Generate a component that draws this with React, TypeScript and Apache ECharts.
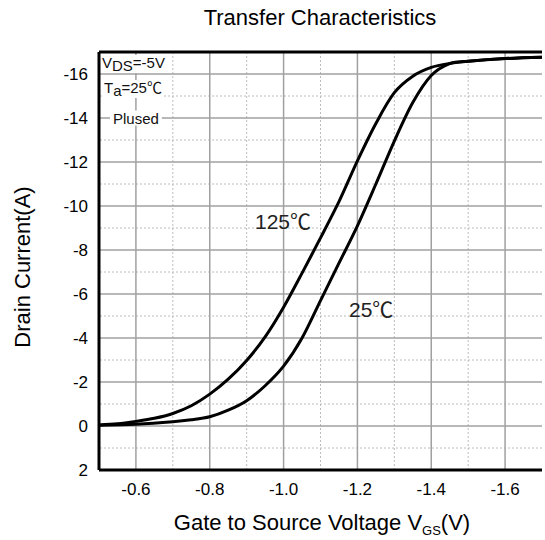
import React, { useEffect, useRef } from "react";
import * as echarts from "echarts";

// Gate-source voltage (V) and drain current (A)
const vgs125 = [-0.5, -0.55, -0.6, -0.65, -0.7, -0.75, -0.8, -0.85, -0.9, -0.95, -1.0, -1.05, -1.1, -1.15, -1.2, -1.25, -1.3, -1.35, -1.4, -1.45, -1.5, -1.6, -1.7];
const id125 = [-0.05, -0.1, -0.21, -0.35, -0.57, -0.92, -1.45, -2.13, -2.98, -4.05, -5.4, -6.95, -8.55, -10.2, -12.05, -13.75, -15.15, -15.9, -16.3, -16.48, -16.58, -16.7, -16.76];

const vgs25 = [-0.5, -0.6, -0.7, -0.75, -0.8, -0.85, -0.9, -0.95, -1.0, -1.05, -1.1, -1.15, -1.2, -1.25, -1.3, -1.35, -1.4, -1.45, -1.5, -1.6, -1.7];
const id25 = [-0.03, -0.08, -0.19, -0.28, -0.42, -0.72, -1.15, -1.83, -2.72, -4.0, -5.7, -7.4, -9.1, -11.0, -12.95, -14.7, -15.93, -16.47, -16.58, -16.7, -16.76];

const curveNames = ["125℃", "25℃"];

// axis ranges, major (solid) and minor (dotted) grid values
const xMin = -1.7;
const xMax = -0.5;
const yMin = -17;
const yMax = 2;
const xMajor = [-0.6, -0.8, -1.0, -1.2, -1.4, -1.6];
const xMinor = [-0.7, -0.9, -1.1, -1.3, -1.5];
const yMajor = [-16, -14, -12, -10, -8, -6, -4, -2, 0];
const yMinor = [-15, -13, -11, -9, -7, -5, -3, -1, 1];

const FONT = "'Liberation Sans', Arial, 'Noto Sans CJK SC', sans-serif";

export default function App() {
  const ref = useRef<HTMLDivElement>(null);

  useEffect(() => {
    if (!ref.current) return;
    const chart = echarts.init(ref.current, undefined, { renderer: "svg" });

    const pairs = (xs: number[], ys: number[]) => xs.map((x, i) => [x, ys[i]]);

    const majorStyle = { color: "#a0a0a0", width: 1.5, type: "solid" };
    const minorStyle = { color: "#bcbcbc", width: 1, type: [2, 2] };
    const borderStyle = { color: "#000", width: 3, type: "solid" };
    const lineSeries = (data: number[][], style: any, z: number, clip: boolean) => ({
      type: "line",
      z,
      clip,
      silent: true,
      symbol: "none",
      showSymbol: false,
      smooth: false,
      lineStyle: style,
      data,
    });

    const gridLines = [
      ...xMinor.map((v) => lineSeries([[v, yMin], [v, yMax]], minorStyle, 2, true)),
      ...yMinor.map((v) => lineSeries([[xMin, v], [xMax, v]], minorStyle, 2, true)),
      ...xMajor.map((v) => lineSeries([[v, yMin], [v, yMax]], majorStyle, 3, true)),
      ...yMajor.map((v) => lineSeries([[xMin, v], [xMax, v]], majorStyle, 3, true)),
    ];
    // frame: left, top, bottom (the right edge lies beyond the picture)
    const frame = [
      lineSeries([[xMax, yMin], [xMax, yMax]], borderStyle, 8, false),
      lineSeries([[xMin, yMin], [xMax, yMin]], borderStyle, 8, false),
      lineSeries([[xMin, yMax], [xMax, yMax]], borderStyle, 8, false),
    ];

    const option: any = {
      animation: false,
      backgroundColor: "#ffffff",
      grid: { left: 99, top: 52, right: -3, bottom: 70, show: false },
      xAxis: {
        type: "value",
        inverse: true,
        min: xMin,
        max: xMax,
        interval: 0.1,
        axisLine: { show: false },
        axisTick: { show: false },
        splitLine: { show: false },
        axisLabel: {
          margin: 11,
          color: "#000",
          fontSize: 17,
          fontFamily: FONT,
          formatter: (v: number) => {
            const k = Math.round(v * 10);
            return k % 2 === 0 ? (k / 10).toFixed(1) : "";
          },
        },
      },
      yAxis: {
        type: "value",
        inverse: true,
        min: yMin,
        max: yMax,
        interval: 1,
        axisLine: { show: false },
        axisTick: { show: false },
        splitLine: { show: false },
        axisLabel: {
          margin: 11,
          color: "#000",
          fontSize: 17,
          fontFamily: FONT,
          formatter: (v: number) => (Math.round(v) % 2 === 0 ? String(Math.round(v)) : ""),
        },
      },
      series: [
        ...gridLines,
        {
          name: curveNames[0],
          type: "line",
          z: 5,
          smooth: 0.3,
          symbol: "none",
          lineStyle: { color: "#000", width: 3 },
          data: pairs(vgs125, id125),
        },
        {
          name: curveNames[1],
          type: "line",
          z: 5,
          smooth: 0.3,
          symbol: "none",
          lineStyle: { color: "#000", width: 3 },
          data: pairs(vgs25, id25),
        },
        ...frame,
      ],
      graphic: [
        {
          type: "text",
          x: 320,
          y: 17,
          style: { text: "Transfer Characteristics", fill: "#000", fontSize: 22, fontFamily: FONT, align: "center", verticalAlign: "middle" },
        },
        {
          type: "text",
          x: 22,
          y: 267,
          rotation: Math.PI / 2,
          style: { text: "Drain Current(A)", fill: "#000", fontSize: 22, fontFamily: FONT, align: "center", verticalAlign: "middle" },
        },
        {
          type: "text",
          x: 322,
          y: 522,
          style: {
            text: "{a|Gate to Source Voltage V}{s|GS}{a|(V)}",
            align: "center",
            verticalAlign: "middle",
            rich: {
              a: { fontSize: 22, fontFamily: FONT, fill: "#000", lineHeight: 30, verticalAlign: "middle" },
              s: { fontSize: 13, fontFamily: FONT, fill: "#000", lineHeight: 13, verticalAlign: "bottom" },
            },
          },
        },
        {
          type: "text",
          x: 102,
          y: 55,
          z: 20,
          style: {
            text: "{a|V}{s|DS}{a|=-5V}",
            align: "left",
            verticalAlign: "top",
            backgroundColor: "#fff",
            rich: {
              a: { fontSize: 15, fontFamily: FONT, fill: "#111", lineHeight: 18, verticalAlign: "top" },
              s: { fontSize: 15, fontFamily: FONT, fill: "#111", lineHeight: 18, padding: [6, 0, 0, 0], verticalAlign: "bottom" },
            },
          },
        },
        {
          type: "text",
          x: 104,
          y: 80,
          z: 20,
          style: {
            text: "{a|T}{s|a}{a|=25℃}",
            align: "left",
            verticalAlign: "top",
            backgroundColor: "#fff",
            rich: {
              a: { fontSize: 15, fontFamily: FONT, fill: "#111", lineHeight: 18, verticalAlign: "top" },
              s: { fontSize: 15, fontFamily: FONT, fill: "#111", lineHeight: 18, padding: [6, 0, 0, 0], verticalAlign: "bottom" },
            },
          },
        },
        {
          type: "text",
          x: 110,
          y: 118,
          z: 20,
          style: { text: "Plused", fill: "#111", fontSize: 15, fontFamily: FONT, align: "left", verticalAlign: "middle", backgroundColor: "#fff", padding: [0, 3, 0, 3] },
        },
        {
          type: "text",
          x: 255,
          y: 221,
          z: 20,
          style: { text: curveNames[0], fill: "#222", fontSize: 21, fontFamily: FONT, align: "left", verticalAlign: "middle" },
        },
        {
          type: "text",
          x: 349,
          y: 309,
          z: 20,
          style: { text: curveNames[1], fill: "#222", fontSize: 21, fontFamily: FONT, align: "left", verticalAlign: "middle" },
        },
      ],
    };

    chart.setOption(option);
    return () => chart.dispose();
  }, []);

  return (
    <div
      ref={ref}
      style={{ position: "absolute", left: 0, top: 0, width: 545, height: 540, background: "#fff" }}
    />
  );
}
